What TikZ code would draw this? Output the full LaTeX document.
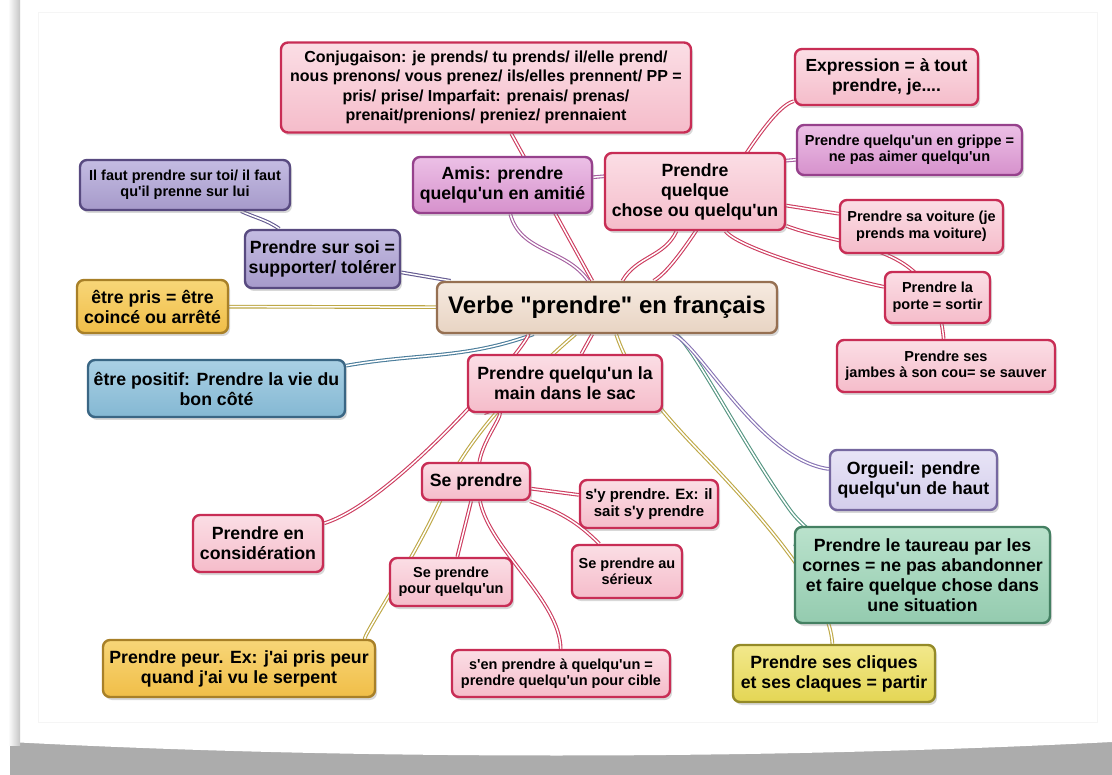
\documentclass[tikz,border=0pt]{standalone}
\usepackage{fontspec}
\setmainfont{Liberation Sans}[Ligatures=TeXOff]
\usepackage{xcolor}
\usepackage{tikz}
\usetikzlibrary{shadows, backgrounds}
\definecolor{pinkfill}{RGB}{245,188,202}
\definecolor{pinktop}{RGB}{251,222,229}
\definecolor{pinkedge}{RGB}{200,45,85}
\definecolor{pinkline}{RGB}{205,60,95}
\definecolor{beigefill}{RGB}{232,212,195}
\definecolor{beigetop}{RGB}{246,234,224}
\definecolor{beigeedge}{RGB}{150,112,82}
\definecolor{slatefill}{RGB}{166,154,202}
\definecolor{slatetop}{RGB}{196,188,226}
\definecolor{slateedge}{RGB}{88,74,128}
\definecolor{slateline}{RGB}{100,90,145}
\definecolor{orchidfill}{RGB}{214,145,204}
\definecolor{orchidtop}{RGB}{236,192,230}
\definecolor{orchidedge}{RGB}{150,65,140}
\definecolor{orchidline}{RGB}{165,95,160}
\definecolor{ochrefill}{RGB}{240,190,72}
\definecolor{ochretop}{RGB}{248,214,120}
\definecolor{ochreedge}{RGB}{168,128,40}
\definecolor{oliveline}{RGB}{190,168,70}
\definecolor{skyfill}{RGB}{132,184,211}
\definecolor{skytop}{RGB}{170,208,228}
\definecolor{skyedge}{RGB}{58,102,132}
\definecolor{skyline}{RGB}{75,125,155}
\definecolor{lilacfill}{RGB}{212,206,236}
\definecolor{lilactop}{RGB}{232,228,246}
\definecolor{lilacedge}{RGB}{118,104,160}
\definecolor{lilacline}{RGB}{135,115,180}
\definecolor{mintfill}{RGB}{148,203,175}
\definecolor{minttop}{RGB}{186,226,204}
\definecolor{mintedge}{RGB}{68,128,98}
\definecolor{tealline}{RGB}{85,150,130}
\definecolor{lemonfill}{RGB}{228,214,84}
\definecolor{lemontop}{RGB}{242,232,140}
\definecolor{lemonedge}{RGB}{148,138,40}

\begin{document}
\begin{tikzpicture}[x=1pt, y=-1pt,
  idea/.style={rounded corners=7pt, line width=2.4pt, align=center, inner sep=2pt, drop shadow={opacity=0.3, shadow xshift=2pt, shadow yshift=-3pt}},
  pinkbox/.style={idea, draw=pinkedge, top color=pinktop, bottom color=pinkfill},
  beigebox/.style={idea, draw=beigeedge, top color=beigetop, bottom color=beigefill},
  slatebox/.style={idea, draw=slateedge, top color=slatetop, bottom color=slatefill},
  orchidbox/.style={idea, draw=orchidedge, top color=orchidtop, bottom color=orchidfill},
  ochrebox/.style={idea, draw=ochreedge, top color=ochretop, bottom color=ochrefill},
  skybox/.style={idea, draw=skyedge, top color=skytop, bottom color=skyfill},
  lilacbox/.style={idea, draw=lilacedge, top color=lilactop, bottom color=lilacfill},
  mintbox/.style={idea, draw=mintedge, top color=minttop, bottom color=mintfill},
  lemonbox/.style={idea, draw=lemonedge, top color=lemontop, bottom color=lemonfill},
  big/.style={font=\fontsize{17.7}{20}\selectfont\bfseries},
  small/.style={font=\fontsize{14.5}{16.5}\selectfont\bfseries},
  link/.style={draw=#1, line width=1.1pt, double=white, double distance=1.5pt}]
  \useasboundingbox (0,0) rectangle (1112,775);
  % page and its shadow
  \begin{scope}[on background layer]
    \fill[white] (0,0) rectangle (1112,775);
    \shade[left color=gray!65, middle color=gray!15, right color=gray!65] (10,742) rectangle (1112,775);
    \fill[white] (10,742) .. controls (350,760) and (760,760) .. (1112,742) -- cycle;
    \shade[left color=white, right color=gray!45] (8,0) rectangle (20,745);
    \draw[gray!8] (38,12) rectangle (1097,722);
  \end{scope}

  \node[beigebox, font=\fontsize{24}{28}\selectfont\bfseries, minimum width=340, minimum height=51] (centre) at (607,307.5) {Verbe "prendre" en français};

  \node[pinkbox, font=\fontsize{16}{19.5}\selectfont\bfseries, minimum width=410, minimum height=90] (conj) at (486,87.5) {Conjugaison: je prends/ tu prends/ il/elle prend/\\nous prenons/ vous prenez/ ils/elles prennent/ PP =\\pris/ prise/ Imparfait: prenais/ prenas/\\prenait/prenions/ preniez/ prennaient};
  \node[pinkbox, font=\fontsize{17.5}{20}\selectfont\bfseries, minimum width=183, minimum height=56] (expr) at (886.5,77) {Expression = à tout\\prendre, je....};
  \node[orchidbox, small, minimum width=225, minimum height=50] (grippe) at (909.5,150) {Prendre quelqu'un en grippe =\\ne pas aimer quelqu'un};
  \node[pinkbox, big, minimum width=180, minimum height=77] (pqc) at (695,191.5) {Prendre\\quelque\\chose ou quelqu'un};
  \node[pinkbox, small, minimum width=163, minimum height=53] (voiture) at (921.5,226.5) {Prendre sa voiture (je\\prends ma voiture)};
  \node[pinkbox, small, minimum width=105, minimum height=51] (porte) at (937.5,297.5) {Prendre la\\porte = sortir};
  \node[pinkbox, small, minimum width=218, minimum height=52] (jambes) at (946,366) {Prendre ses\\jambes à son cou= se sauver};
  \node[slatebox, small, minimum width=210, minimum height=50] (ilfaut) at (185,185) {Il faut prendre sur toi/ il faut\\qu'il prenne sur lui};
  \node[orchidbox, big, minimum width=179, minimum height=56] (amis) at (502.5,185) {Amis: prendre\\quelqu'un en amitié};
  \node[slatebox, big, minimum width=155, minimum height=58] (soi) at (322.5,259) {Prendre sur soi =\\supporter/ tolérer};
  \node[ochrebox, big, minimum width=151, minimum height=53] (pris) at (152.5,306.5) {être pris = être\\coincé ou arrêté};
  \node[skybox, big, minimum width=257, minimum height=57] (positif) at (216.5,388.5) {être positif: Prendre la vie du\\bon côté};
  \node[pinkbox, big, minimum width=194, minimum height=57] (sac) at (565,383.5) {Prendre quelqu'un la\\main dans le sac};
  \node[pinkbox, big, minimum width=108, minimum height=37] (seprendre) at (476,481.5) {Se prendre};
  \node[pinkbox, font=\fontsize{15}{17}\selectfont\bfseries, minimum width=138, minimum height=48] (sy) at (649,504) {s'y prendre. Ex: il\\sait s'y prendre};
  \node[pinkbox, big, minimum width=130, minimum height=57] (consid) at (258,543.5) {Prendre en\\considération};
  \node[pinkbox, small, minimum width=122, minimum height=48] (pourqq) at (451,582) {Se prendre\\pour quelqu'un};
  \node[pinkbox, small, minimum width=110, minimum height=53] (serieux) at (627,571.5) {Se prendre au\\sérieux};
  \node[ochrebox, big, minimum width=272, minimum height=57] (peur) at (239,668.5) {Prendre peur. Ex: j'ai pris peur\\quand j'ai vu le serpent};
  \node[pinkbox, small, minimum width=218, minimum height=47] (senprendre) at (561,673.5) {s'en prendre à quelqu'un =\\prendre quelqu'un pour cible};
  \node[lilacbox, big, minimum width=167, minimum height=60] (orgueil) at (913.5,480) {Orgueil: pendre\\quelqu'un de haut};
  \node[mintbox, big, minimum width=255, minimum height=96] (taureau) at (922.5,575) {Prendre le taureau par les\\cornes = ne pas abandonner\\et faire quelque chose dans\\une situation};
  \node[lemonbox, big, minimum width=202, minimum height=57] (cliques) at (834,673.5) {Prendre ses cliques\\et ses claques = partir};

  % connectors behind the boxes
  \begin{scope}[on background layer]
    \draw[link=pinkline] (centre) -- (conj);
    \draw[link=orchidline] (centre) to[out=125,in=-75] (amis);
    \draw[link=orchidline] (amis) -- (grippe);
    \draw[link=pinkline] (centre) to[out=60,in=-115] (pqc);
    \draw[link=pinkline] (centre) .. controls (690,260) and (760,110) .. (expr);
    \draw[link=pinkline] (pqc) -- (voiture);
    \draw[link=pinkline] (pqc) .. controls (740,250) and (850,280) .. (porte);
    \draw[link=pinkline] (pqc) .. controls (850,250) and (935,240) .. (jambes);
    \draw[link=slateline] (centre) -- (soi);
    \draw[link=slateline] (soi) to[out=145,in=-25] (ilfaut);
    \draw[link=oliveline] (centre) -- (pris);
    \draw[link=skyline] (centre) to[out=200,in=10] (positif);
    \draw[link=pinkline] (centre) .. controls (540,330) and (400,500) .. (consid);
    \draw[link=oliveline] (centre) .. controls (545,360) and (470,430) .. (445,490) .. controls (420,550) and (360,640) .. (peur);
    \draw[link=pinkline] (centre) -- (sac);
    \draw[link=pinkline] (sac) .. controls (520,400) and (485,430) .. (seprendre);
    \draw[link=oliveline] (centre) .. controls (625,360) and (640,390) .. (700,452) .. controls (780,535) and (830,600) .. (cliques);
    \draw[link=tealline] (centre) .. controls (690,340) and (740,440) .. (790,510) .. controls (810,538) and (860,560) .. (taureau);
    \draw[link=lilacline] (centre) .. controls (700,345) and (760,460) .. (orgueil);
    \draw[link=pinkline] (seprendre) -- (sy);
    \draw[link=pinkline] (seprendre) to[out=-20,in=135] (serieux);
    \draw[link=pinkline] (seprendre) -- (pourqq);
    \draw[link=pinkline] (seprendre) .. controls (490,550) and (560,600) .. (senprendre);
  \end{scope}
\end{tikzpicture}
\end{document}
